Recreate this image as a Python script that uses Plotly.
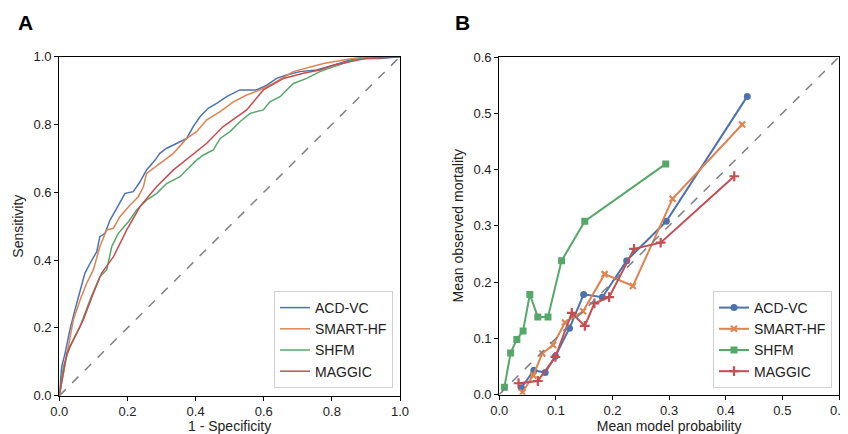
import plotly.graph_objects as go

# ---------------- Panel A: ROC curves ----------------
acd_fpr = [0, 0.007, 0.017, 0.031, 0.046, 0.061, 0.075, 0.09, 0.11, 0.119, 0.134, 0.149, 0.168, 0.193, 0.217,
           0.237, 0.256, 0.281, 0.295, 0.315, 0.344, 0.374, 0.393, 0.413, 0.437, 0.462, 0.491, 0.530, 0.579,
           0.609, 0.638, 0.667, 0.706, 0.755, 0.804, 0.853, 0.902, 0.941, 1.0]
acd_tpr = [0, 0.086, 0.125, 0.194, 0.253, 0.312, 0.361, 0.39, 0.425, 0.469, 0.479, 0.518, 0.553, 0.597, 0.602,
           0.631, 0.666, 0.695, 0.715, 0.73, 0.744, 0.759, 0.794, 0.823, 0.848, 0.862, 0.882, 0.902, 0.902,
           0.916, 0.936, 0.946, 0.956, 0.961, 0.975, 0.99, 0.995, 0.995, 1.0]

smart_fpr = [0, 0.012, 0.026, 0.041, 0.061, 0.08, 0.1, 0.119, 0.139, 0.159, 0.178, 0.207, 0.232, 0.247, 0.256,
             0.276, 0.305, 0.335, 0.374, 0.403, 0.432, 0.472, 0.511, 0.550, 0.589, 0.628, 0.687, 0.726, 0.775,
             0.834, 0.883, 1.0]
smart_tpr = [0, 0.066, 0.145, 0.223, 0.282, 0.331, 0.371, 0.44, 0.489, 0.494, 0.528, 0.562, 0.587, 0.617, 0.656,
             0.671, 0.695, 0.715, 0.759, 0.779, 0.813, 0.838, 0.867, 0.887, 0.902, 0.921, 0.956, 0.966, 0.980,
             0.990, 0.998, 1.0]

shfm_fpr = [0, 0.012, 0.031, 0.061, 0.09, 0.119, 0.139, 0.154, 0.173, 0.203, 0.227, 0.256, 0.286, 0.315, 0.354,
            0.374, 0.403, 0.423, 0.452, 0.472, 0.501, 0.530, 0.560, 0.599, 0.618, 0.648, 0.687, 0.726, 0.765,
            0.804, 0.834, 0.863, 0.902, 1.0]
shfm_tpr = [0, 0.086, 0.145, 0.204, 0.282, 0.351, 0.371, 0.44, 0.479, 0.513, 0.548, 0.577, 0.597, 0.626, 0.646,
            0.666, 0.695, 0.710, 0.725, 0.759, 0.779, 0.808, 0.833, 0.843, 0.867, 0.882, 0.921, 0.936, 0.956,
            0.970, 0.980, 0.990, 0.998, 1.0]

maggic_fpr = [0, 0.022, 0.041, 0.070, 0.100, 0.124, 0.159, 0.198, 0.237, 0.286, 0.335, 0.384, 0.432, 0.481,
              0.550, 0.599, 0.658, 0.716, 0.765, 0.804, 0.853, 0.902, 1.0]
maggic_tpr = [0, 0.125, 0.164, 0.223, 0.302, 0.361, 0.410, 0.489, 0.558, 0.617, 0.666, 0.705, 0.744, 0.794,
              0.843, 0.902, 0.936, 0.951, 0.961, 0.975, 0.985, 0.995, 1.0]

# ---------------- Panel B: calibration ----------------
acd_pred = [0.039, 0.061, 0.081, 0.099, 0.124, 0.149, 0.182, 0.225, 0.295, 0.438]
acd_obs = [0.012, 0.043, 0.039, 0.068, 0.118, 0.178, 0.173, 0.238, 0.308, 0.530]

smart_pred = [0.041, 0.060, 0.076, 0.095, 0.116, 0.148, 0.186, 0.236, 0.306, 0.429]
smart_obs = [0.004, 0.034, 0.073, 0.088, 0.128, 0.148, 0.214, 0.193, 0.348, 0.480]

shfm_pred = [0.009, 0.020, 0.031, 0.042, 0.054, 0.068, 0.086, 0.110, 0.151, 0.294]
shfm_obs = [0.013, 0.074, 0.098, 0.113, 0.178, 0.138, 0.138, 0.238, 0.308, 0.410]

maggic_pred = [0.034, 0.068, 0.099, 0.128, 0.151, 0.168, 0.194, 0.238, 0.285, 0.415]
maggic_obs = [0.020, 0.024, 0.067, 0.145, 0.122, 0.162, 0.173, 0.259, 0.270, 0.388]

names = ["ACD-VC", "SMART-HF", "SHFM", "MAGGIC"]
colors = ["#4C72B0", "#DD8452", "#55A868", "#C44E52"]
symbols = ["circle", "x-thin", "square", "cross-thin"]
sizes = [7, 6, 7, 7]

roc = [(acd_fpr, acd_tpr), (smart_fpr, smart_tpr), (shfm_fpr, shfm_tpr), (maggic_fpr, maggic_tpr)]
cal = [(acd_pred, acd_obs), (smart_pred, smart_obs), (shfm_pred, shfm_obs), (maggic_pred, maggic_obs)]

FONT = "Liberation Sans, Arial, sans-serif"
W, H = 840, 426  # page is offset by the browser's 8px body margin


def px(xp):
    return (xp - 8) / W


def py(yp):
    return 1 - (yp - 8) / H


fig = go.Figure()

for (x, y), n, c in zip(roc, names, colors):
    fig.add_trace(go.Scatter(x=x, y=y, mode="lines", name=n, line=dict(color=c, width=1.5),
                             xaxis="x", yaxis="y", legend="legend"))
fig.add_trace(go.Scatter(x=[0, 1], y=[0, 1], mode="lines", showlegend=False,
                         line=dict(color="#808080", width=1.5, dash="dash"), xaxis="x", yaxis="y"))

for (x, y), n, c, s, sz in zip(cal, names, colors, symbols, sizes):
    mk = dict(color=c, symbol=s, size=sz)
    if "thin" in s:
        mk.update(line=dict(color=c, width=2.2))
    fig.add_trace(go.Scatter(x=x, y=y, mode="lines+markers", name=n, line=dict(color=c, width=2),
                             marker=mk, xaxis="x2", yaxis="y2", legend="legend2"))
fig.add_trace(go.Scatter(x=[0, 0.6], y=[0, 0.6], mode="lines", showlegend=False,
                         line=dict(color="#808080", width=1.5, dash="dash"), xaxis="x2", yaxis="y2"))

ax_common = dict(showgrid=False, zeroline=False, showline=True, linecolor="black", linewidth=1.3,
                 mirror=True, ticks="outside", ticklen=4, tickcolor="black", tickwidth=1.2,
                 automargin=False, ticklabeloverflow="allow",
                 tickfont=dict(size=13, color="#222"), title_font=dict(size=14, color="#222"))

fig.update_layout(
    width=W, height=H,
    margin=dict(l=0, r=0, t=0, b=0, autoexpand=False),
    paper_bgcolor="white", plot_bgcolor="white",
    font=dict(family=FONT, color="#222"),
    xaxis=dict(domain=[px(59.3), px(400)], range=[0, 1], tickvals=[0, 0.2, 0.4, 0.6, 0.8, 1.0],
               ticktext=["0.0", "0.2", "0.4", "0.6", "0.8", "1.0"],
               title=dict(text="1 - Specificity", standoff=2), anchor="y", **ax_common),
    yaxis=dict(domain=[py(395.7), py(56.7)], range=[0, 1], tickvals=[0, 0.2, 0.4, 0.6, 0.8, 1.0],
               ticktext=["0.0", "0.2", "0.4", "0.6", "0.8", "1.0"],
               title=dict(text="Sensitivity", standoff=6), anchor="x", **ax_common),
    xaxis2=dict(domain=[px(499.3), px(839)], range=[0, 0.6], tickvals=[0, 0.1, 0.2, 0.3, 0.4, 0.5, 0.6],
                ticktext=["0.0", "0.1", "0.2", "0.3", "0.4", "0.5", "0.6"],
                title=dict(text="Mean model probability", standoff=2), anchor="y2", **ax_common),
    yaxis2=dict(domain=[py(394.5), py(57)], range=[0, 0.6], tickvals=[0, 0.1, 0.2, 0.3, 0.4, 0.5, 0.6],
                ticktext=["0.0", "0.1", "0.2", "0.3", "0.4", "0.5", "0.6"],
                title=dict(text="Mean observed mortality", standoff=6), anchor="x2", **ax_common),
    legend=dict(x=px(393), y=py(388), xanchor="right", yanchor="bottom", bgcolor="white",
                bordercolor="#d0d0d0", borderwidth=1, font=dict(size=14, color="#222"),
                itemwidth=30, tracegroupgap=0),
    legend2=dict(x=px(832), y=py(388), xanchor="right", yanchor="bottom", bgcolor="white",
                 bordercolor="#d0d0d0", borderwidth=1, font=dict(size=14, color="#222"),
                 itemwidth=30, tracegroupgap=0),
    annotations=[
        dict(text="<b>A</b>", x=px(16), y=py(22), xref="paper", yref="paper", showarrow=False,
             xanchor="left", yanchor="middle", font=dict(size=21, color="black")),
        dict(text="<b>B</b>", x=px(453), y=py(22), xref="paper", yref="paper", showarrow=False,
             xanchor="left", yanchor="middle", font=dict(size=21, color="black")),
    ],
)

fig.write_html("out.html")
